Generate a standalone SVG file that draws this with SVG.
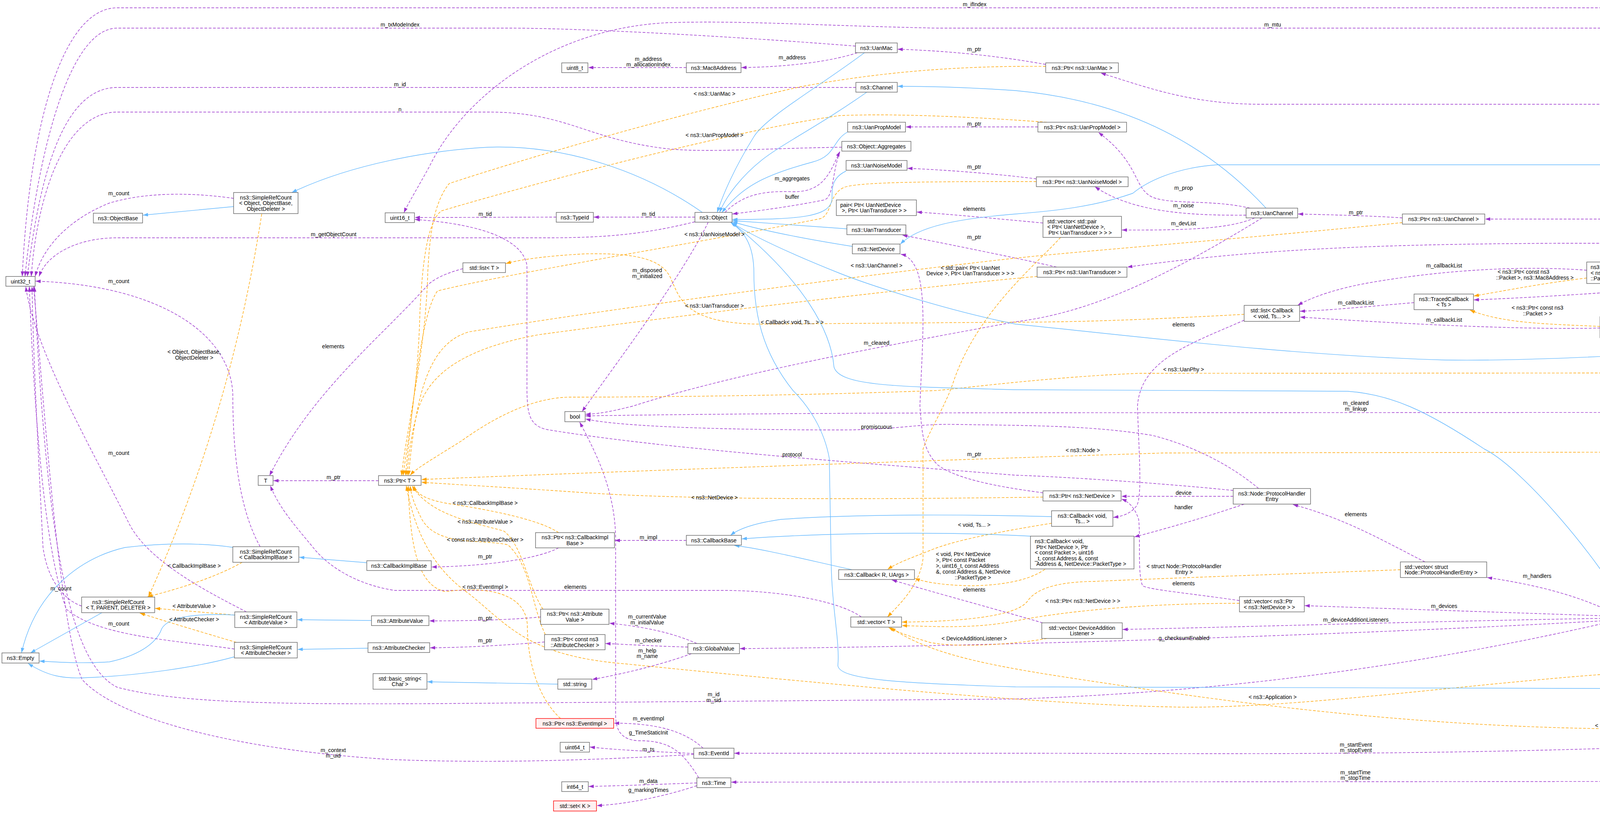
<svg xmlns="http://www.w3.org/2000/svg" width="5592" height="2082" viewBox="0 0 5592 2082">
<defs>
<style>
text{font-family:"Liberation Sans",Arial,sans-serif;font-size:14px;fill:#000}
.nd rect{fill:#fff;stroke:#666;stroke-width:1.4}
.nd text{text-anchor:middle}
.nd text.l{text-anchor:start}
.nd.hl rect{fill:#999}
.nd.tr rect{fill:#fff0f0;stroke:#f00}
.u{stroke:#9a32cd;stroke-dasharray:7,4;marker-end:url(#ap)}
.o{stroke:#ffa500;stroke-dasharray:7,4;marker-end:url(#ao)}
.b{stroke:#63b8ff;marker-end:url(#ab)}
</style>
<marker id="ap" markerUnits="userSpaceOnUse" markerWidth="13" markerHeight="9" refX="13" refY="4.5" orient="auto"><path d="M0,0 L13,4.5 L0,9 z" fill="#9a32cd"/></marker>
<marker id="ao" markerUnits="userSpaceOnUse" markerWidth="13" markerHeight="9" refX="13" refY="4.5" orient="auto"><path d="M0,0 L13,4.5 L0,9 z" fill="#ffa500"/></marker>
<marker id="ab" markerUnits="userSpaceOnUse" markerWidth="13" markerHeight="9" refX="13" refY="4.5" orient="auto"><path d="M0,0 L13,4.5 L0,9 z" fill="#63b8ff"/></marker>
</defs>
<rect width="5592" height="2082" fill="#fff"/>
<g id="connectors" fill="none" stroke-width="1.4">
<path class="u" d="M5190,646 C5175,400 5110,20 4890,20 L300,20 C160,20 75,320 57,708"/>
<path class="u" d="M5182,646 C5150,300 5020,72 4870,72 L2400,72 C2100,66 1900,52 1712,58 C1400,72 1180,260 1100,425 C1070,480 1045,520 1034,545"/>
<path class="u" d="M2190,118 C1900,95 1500,72 1300,72 L300,72 C175,72 95,400 64,708"/>
<path class="u" d="M5178,646 C5120,420 5000,267 4880,267 L3230,267 C3050,267 2940,225 2818,187"/>
<path class="u" d="M2677,165 C2550,142 2420,130 2298,126"/>
<path class="u" d="M2195,135 C2120,160 2000,172 1898,173"/>
<path class="u" d="M1757,173 L1506,173"/>
<path class="u" d="M2191,224 L300,224 C170,224 105,420 70,708"/>
<path class="u" d="M2155,377 C1950,380 1800,392 1700,380 C1500,355 1450,287 1250,287 L300,287 C165,287 95,500 80,708"/>
<path class="u" d="M1779,568 C1650,600 1550,609 1400,609 L300,609 C200,609 120,650 100,708"/>
<path class="u" d="M598,508 C500,494 380,490 280,520 C180,560 110,630 90,708"/>
<path class="u" d="M666,1400 C610,1300 596,1150 596,1010 C590,850 400,730 91,720"/>
<path class="u" d="M631,1567 C540,1520 380,1440 330,1340 C230,1140 90,900 66,734"/>
<path class="u" d="M600,1662 C450,1640 250,1630 170,1560 C110,1400 85,1000 75,734"/>
<path class="u" d="M209,1552 C160,1535 120,1480 110,1400 C95,1100 85,900 82,734"/>
<path class="u" d="M1776,1932 C1500,1948 1250,1955 1000,1945 C600,1920 300,1840 210,1740 C150,1600 110,1000 86,734"/>
<path class="u" d="M4133,1590 C3700,1690 3200,1770 2600,1790 L1100,1802 C700,1804 450,1800 300,1760 C180,1700 120,1400 88,734"/>
<path class="u" d="M1779,556 L1520,556"/>
<path class="u" d="M1424,556 L1062,557"/>
<path class="u" d="M3157,1256 C2950,1235 2700,1220 2600,1217 C2200,1185 1700,1150 1400,1100 C1355,1090 1350,1060 1349,1000 L1349,680 C1340,620 1250,575 1062,562"/>
<path class="u" d="M1813,569 C1750,700 1600,900 1490,1054"/>
<path class="u" d="M1856,544 C1900,500 1950,488 2030,491 C2110,492 2125,440 2150,388"/>
<path class="u" d="M2150,390 C2130,440 2135,505 2110,512 C2020,530 1940,540 1875,548"/>
<path class="u" d="M2657,325 L2319,325"/>
<path class="u" d="M2653,458 C2550,445 2420,435 2323,431"/>
<path class="u" d="M2670,571 C2550,560 2450,550 2347,543"/>
<path class="u" d="M2705,684 C2600,660 2450,630 2310,602"/>
<path class="u" d="M2670,1262 C2580,1250 2450,1230 2400,1190 C2360,1150 2360,1100 2355,1040 C2360,900 2372,770 2350,700 C2340,670 2325,655 2306,651"/>
<path class="u" d="M3590,558 C3500,552 3400,550 3323,548"/>
<path class="u" d="M3200,533 C3100,510 3000,525 2950,505 C2900,480 2920,420 2812,339"/>
<path class="u" d="M3190,551 C3050,552 2900,545 2803,478"/>
<path class="u" d="M3212,558 C3150,585 3050,590 2872,589"/>
<path class="u" d="M3231,558 C3000,700 2800,800 2600,824 C2300,880 1900,950 1620,1040 C1560,1055 1530,1060 1499,1061"/>
<path class="u" d="M3185,820 C3050,880 2920,920 2912,1040 C2915,1150 2925,1270 2910,1295 C2895,1315 2875,1322 2850,1325"/>
<path class="u" d="M3620,775 C3500,785 3400,795 3328,797"/>
<path class="u" d="M4062,692 C3900,680 3700,690 3500,725 C3420,740 3360,760 3322,782"/>
<path class="u" d="M4096,840 C3900,845 3600,830 3328,812"/>
<path class="u" d="M5126,662 C4900,670 4600,683 4293,693"/>
<path class="u" d="M5126,668 C4800,700 4300,735 4100,750 C3950,760 3850,765 3773,768"/>
<path class="u" d="M5160,646 C5100,610 5000,561 4880,561 L3802,561"/>
<path class="u" d="M5126,648 C5050,635 4950,623 4880,623 L4000,623 C3500,625 3200,640 2886,684"/>
<path class="u" d="M5187,671 C5130,760 5000,830 4905,870"/>
<path class="u" d="M4773,882 L4613,882"/>
<path class="u" d="M4509,879 C4420,870 4330,860 4260,851"/>
<path class="u" d="M5195,671 C5160,850 5120,1050 5000,1115 C4900,1135 4780,1130 4700,1175 C4650,1205 4610,1225 4585,1240"/>
<path class="u" d="M5202,671 C5180,850 5140,1050 5100,1120 C5070,1160 5000,1178 4931,1178"/>
<path class="u" d="M5190,671 C5120,850 5020,1056 4860,1056 L2600,1057 C2000,1058 1700,1062 1499,1065"/>
<path class="u" d="M3222,1251 C3150,1190 3050,1140 2950,1115 C2800,1090 2650,1090 2450,1087 C2350,1084 2300,1101 2150,1101 C1900,1101 1600,1095 1499,1073"/>
<path class="u" d="M3157,1271 L2871,1271"/>
<path class="u" d="M3185,1291 C3100,1320 3000,1350 2904,1375"/>
<path class="u" d="M3648,1439 C3550,1390 3450,1330 3310,1292"/>
<path class="u" d="M3173,1538 C3050,1520 2940,1510 2925,1500 C2912,1470 2920,1380 2915,1330 C2905,1300 2890,1285 2871,1278"/>
<path class="u" d="M4135,1572 C4050,1530 3950,1500 3807,1479"/>
<path class="u" d="M4133,1578 C3900,1570 3600,1560 3340,1551"/>
<path class="u" d="M4133,1583 C3700,1590 3200,1605 2874,1612"/>
<path class="u" d="M4133,1588 C3600,1620 2600,1655 1894,1661"/>
<path class="u" d="M2669,1595 C2550,1560 2400,1520 2283,1485"/>
<path class="u" d="M2205,1580 C2150,1540 2000,1512 1850,1512 L1010,1512 C900,1495 830,1440 800,1400 C750,1340 715,1300 692,1244"/>
<path class="u" d="M1185,688 C1140,700 1110,715 1095,730 C980,860 800,1000 690,1218"/>
<path class="u" d="M969,1231 L700,1231"/>
<path class="u" d="M4220,1589 C4350,1605 4420,1617 4550,1617 L5180,1617 C5300,1620 5400,1660 5455,1712"/>
<path class="u" d="M5416,1731 L5303,1731"/>
<path class="u" d="M5097,1745 C5030,1752 4980,1758 4928,1760"/>
<path class="u" d="M4852,1752 C4750,1550 4650,1400 4572,1266"/>
<path class="u" d="M4540,1265 C4450,1380 4300,1500 4197,1568"/>
<path class="u" d="M4815,1777 C4600,1850 4300,1910 4100,1917 C3500,1935 3000,1929 2600,1929 L1880,1929"/>
<path class="u" d="M4860,1777 C4800,1900 4650,2001 4550,2001 L1872,2003"/>
<path class="u" d="M1800,1916 C1760,1880 1700,1852 1572,1852"/>
<path class="u" d="M1776,1930 C1700,1925 1600,1923 1510,1913"/>
<path class="u" d="M1789,1992 C1750,1930 1720,1897 1640,1897 C1590,1897 1576,1870 1576,1830 L1576,1380 C1575,1250 1520,1150 1484,1081"/>
<path class="u" d="M1784,2005 C1700,2008 1600,2012 1507,2014"/>
<path class="u" d="M1784,2012 C1700,2040 1600,2060 1528,2063"/>
<path class="u" d="M1784,1648 C1720,1620 1650,1605 1560,1596"/>
<path class="u" d="M1761,1657 C1680,1655 1600,1650 1550,1648"/>
<path class="u" d="M1770,1674 C1700,1700 1600,1725 1516,1740"/>
<path class="u" d="M1757,1384 L1574,1384"/>
<path class="u" d="M1430,1403 C1380,1430 1250,1450 1105,1452"/>
<path class="u" d="M1384,1580 C1300,1588 1200,1590 1099,1590"/>
<path class="u" d="M1394,1644 C1300,1652 1200,1658 1101,1659"/>
<path class="o" d="M670,548 C600,1000 470,1330 380,1528"/>
<path class="o" d="M620,1440 C550,1480 450,1510 378,1528"/>
<path class="o" d="M601,1575 C520,1568 450,1562 397,1558"/>
<path class="o" d="M605,1645 C520,1620 420,1590 358,1570"/>
<path class="o" d="M3185,805 C3000,815 2800,825 2600,825 L1950,830 C1750,830 1740,760 1720,720 C1700,660 1620,648 1500,650 C1400,655 1330,665 1295,675"/>
<path class="o" d="M2715,608 C2650,680 2500,800 2440,980 C2420,1040 2380,1100 2363,1150 L2363,1430 C2355,1500 2300,1550 2272,1580"/>
<path class="o" d="M3585,1459 C3300,1470 3000,1480 2800,1489 C2700,1490 2650,1510 2630,1540 C2600,1580 2450,1592 2309,1593"/>
<path class="o" d="M3173,1545 C2900,1545 2700,1570 2600,1590 C2500,1610 2400,1605 2309,1602"/>
<path class="o" d="M2680,1635 C2600,1650 2450,1660 2380,1645 C2330,1630 2300,1620 2275,1607"/>
<path class="o" d="M5468,1752 C5420,1820 5300,1866 5200,1866 L4100,1866 C3700,1860 3300,1820 2900,1760 C2600,1715 2400,1690 2280,1607"/>
<path class="o" d="M2692,1340 C2600,1355 2450,1380 2380,1410 C2330,1430 2300,1440 2272,1458"/>
<path class="o" d="M2675,1458 C2630,1490 2550,1500 2480,1500 C2400,1498 2360,1488 2342,1481"/>
<path class="o" d="M4062,712 C3950,725 3850,745 3773,758"/>
<path class="o" d="M4096,836 C3980,830 3850,830 3763,794"/>
<path class="o" d="M2677,170 C2450,168 2250,185 2050,222 C1700,300 1300,420 1150,470 C1110,520 1100,600 1095,700 C1090,900 1040,1100 1028,1218"/>
<path class="o" d="M2680,313 C2500,300 2300,290 2150,296 C1900,330 1400,460 1130,540 C1090,570 1080,700 1075,800 C1070,1000 1040,1150 1032,1218"/>
<path class="o" d="M2653,465 C2400,465 2200,465 2160,480 C2120,500 2130,550 2100,560 C1800,620 1300,700 1120,745 C1080,800 1060,1000 1038,1218"/>
<path class="o" d="M2655,708 C2400,730 1800,800 1380,857 C1200,890 1100,950 1070,1050 C1050,1120 1045,1180 1042,1218"/>
<path class="o" d="M3590,570 C3200,610 2800,640 2600,661 C2200,705 1500,800 1200,850 C1100,880 1065,1000 1046,1218"/>
<path class="o" d="M4829,895 C4750,935 4650,955 4550,955 L2916,956 C2700,965 2500,990 2400,1000 C2000,1015 1600,1017 1455,1017 C1350,1020 1250,1080 1180,1130 C1100,1180 1065,1200 1050,1217"/>
<path class="o" d="M4527,1240 C4450,1190 4300,1158 4150,1158 L2980,1160 C2500,1175 1500,1210 1079,1228"/>
<path class="o" d="M2670,1273 C2300,1278 1800,1282 1500,1262 C1300,1248 1150,1240 1079,1235"/>
<path class="o" d="M1430,1364 C1380,1330 1250,1305 1150,1290 C1090,1280 1065,1265 1060,1244"/>
<path class="o" d="M1390,1560 C1350,1500 1340,1400 1290,1360 C1220,1340 1100,1320 1055,1244"/>
<path class="o" d="M1396,1625 C1360,1550 1360,1450 1300,1395 C1230,1380 1120,1400 1080,1330 C1060,1290 1053,1270 1050,1244"/>
<path class="o" d="M1435,1840 C1380,1790 1350,1700 1350,1600 C1345,1520 1250,1500 1140,1515 C1070,1500 1050,1400 1045,1244"/>
<path class="o" d="M5097,1724 C4900,1716 4500,1712 4300,1716 C3900,1730 3400,1810 3050,1811 C2700,1810 2000,1740 1600,1700 C1350,1680 1300,1600 1200,1520 C1100,1450 1060,1350 1040,1244"/>
<path class="b" d="M598,529 L366,551"/>
<path class="b" d="M1798,544 C1650,440 1450,370 1250,377 C1100,385 900,420 747,493"/>
<path class="b" d="M598,1402 C520,1390 420,1390 320,1402 C200,1430 90,1520 55,1672"/>
<path class="b" d="M261,1569 L78,1672"/>
<path class="b" d="M601,1575 C500,1570 430,1580 414,1610 C400,1650 350,1680 280,1695 C200,1700 140,1695 101,1693"/>
<path class="b" d="M600,1682 C500,1710 350,1730 230,1735 C160,1740 120,1730 72,1699"/>
<path class="b" d="M939,1441 L766,1427"/>
<path class="b" d="M951,1589 L761,1587"/>
<path class="b" d="M942,1660 L762,1663"/>
<path class="b" d="M1428,1752 L1094,1746"/>
<path class="b" d="M2213,135 C2100,220 1960,300 1930,350 C1880,430 1850,500 1836,544"/>
<path class="b" d="M2219,236 C2100,320 2000,370 1950,410 C1900,450 1860,500 1842,544"/>
<path class="b" d="M2170,338 C2130,360 2140,400 2080,415 C1950,450 1900,480 1848,544"/>
<path class="b" d="M2166,438 C2130,455 2130,480 2130,510 C2125,555 2050,562 1875,562"/>
<path class="b" d="M2168,586 C2050,578 1950,570 1875,565"/>
<path class="b" d="M2182,631 C2050,610 1950,590 1875,568"/>
<path class="b" d="M3241,533 C3100,380 2900,260 2600,232 C2500,225 2400,221 2298,221"/>
<path class="b" d="M5200,646 C5150,520 5050,422 4900,422 L3116,422 C3000,430 2930,470 2900,495 C2800,530 2700,540 2600,548 C2450,560 2350,580 2305,625"/>
<path class="b" d="M4509,888 C4200,910 3900,925 3700,922 C3300,910 2900,860 2600,830 C2400,790 2200,720 2150,700 C2000,640 1920,600 1873,570"/>
<path class="b" d="M4167,1568 C4100,1440 3900,1200 3800,1150 C3650,1050 3560,1010 3450,1002 L2600,998 C2300,990 2150,990 2135,940 C2128,850 2060,720 1874,570"/>
<path class="b" d="M4801,1765 L2600,1759 C2300,1750 2150,1740 2145,1705 C2150,1640 2130,1560 2128,1450 L2123,1174 C2110,1100 2070,1040 2030,1000 C1950,900 1930,800 1930,700 C1930,620 1900,590 1870,569"/>
<path class="b" d="M2181,1459 C2050,1430 1950,1405 1880,1397"/>
<path class="b" d="M2692,1323 C2500,1318 2200,1315 2000,1330 C1930,1340 1890,1355 1870,1371"/>
<path class="b" d="M2638,1373 C2400,1360 2100,1365 1899,1380"/>
</g>
<g id="nodes">
<g id="n_uint32" class="nd"><rect x="15" y="708" width="75" height="25"/><text x="52.5" y="725.5">uint32_t</text></g>
<g id="n_srcobj" class="nd"><rect x="598" y="493" width="165" height="54"/><text x="680.5" y="510.5">ns3::SimpleRefCount</text><text x="680.5" y="525">&lt; Object, ObjectBase,</text><text x="680.5" y="539.5">ObjectDeleter &gt;</text></g>
<g id="n_objbase" class="nd"><rect x="239" y="546" width="126" height="25"/><text x="302" y="563.5">ns3::ObjectBase</text></g>
<g id="n_uint16" class="nd"><rect x="986" y="545" width="75" height="25"/><text x="1023.5" y="562.5">uint16_t</text></g>
<g id="n_T" class="nd"><rect x="661" y="1218" width="38" height="25"/><text x="680" y="1235.5">T</text></g>
<g id="n_ptrT" class="nd"><rect x="969" y="1218" width="109" height="25"/><text x="1023.5" y="1235.5">ns3::Ptr&lt; T &gt;</text></g>
<g id="n_srccib" class="nd"><rect x="596" y="1400" width="169" height="40"/><text x="680.5" y="1417.5">ns3::SimpleRefCount</text><text x="680.5" y="1432">&lt; CallbackImplBase &gt;</text></g>
<g id="n_cib" class="nd"><rect x="939" y="1436" width="165" height="25"/><text x="1021.5" y="1453.5">ns3::CallbackImplBase</text></g>
<g id="n_srctpd" class="nd"><rect x="209" y="1529" width="187" height="40"/><text x="302.5" y="1546.5">ns3::SimpleRefCount</text><text x="302.5" y="1561">&lt; T, PARENT, DELETER &gt;</text></g>
<g id="n_srcav" class="nd"><rect x="601" y="1567" width="159" height="40"/><text x="680.5" y="1584.5">ns3::SimpleRefCount</text><text x="680.5" y="1599">&lt; AttributeValue &gt;</text></g>
<g id="n_av" class="nd"><rect x="951" y="1577" width="147" height="25"/><text x="1024.5" y="1594.5">ns3::AttributeValue</text></g>
<g id="n_srcac" class="nd"><rect x="600" y="1645" width="161" height="40"/><text x="680.5" y="1662.5">ns3::SimpleRefCount</text><text x="680.5" y="1677">&lt; AttributeChecker &gt;</text></g>
<g id="n_ac" class="nd"><rect x="942" y="1646" width="158" height="25"/><text x="1021" y="1663.5">ns3::AttributeChecker</text></g>
<g id="n_empty" class="nd"><rect x="5" y="1672" width="95" height="26"/><text x="52.5" y="1690">ns3::Empty</text></g>
<g id="n_bstr" class="nd"><rect x="955" y="1725" width="138" height="40"/><text x="1024" y="1742.5">std::basic_string&lt;</text><text x="1024" y="1757">Char &gt;</text></g>
<g id="n_uanmac" class="nd"><rect x="2190" y="110" width="107" height="25"/><text x="2243.5" y="127.5">ns3::UanMac</text></g>
<g id="n_uint8" class="nd"><rect x="1438" y="161" width="67" height="25"/><text x="1471.5" y="178.5">uint8_t</text></g>
<g id="n_mac8" class="nd"><rect x="1757" y="161" width="140" height="25"/><text x="1827" y="178.5">ns3::Mac8Address</text></g>
<g id="n_channel" class="nd"><rect x="2191" y="211" width="106" height="25"/><text x="2244" y="228.5">ns3::Channel</text></g>
<g id="n_uanprop" class="nd"><rect x="2170" y="313" width="148" height="25"/><text x="2244" y="330.5">ns3::UanPropModel</text></g>
<g id="n_aggr" class="nd"><rect x="2155" y="362" width="177" height="25"/><text x="2243.5" y="379.5">ns3::Object::Aggregates</text></g>
<g id="n_uannoise" class="nd"><rect x="2166" y="411" width="156" height="25"/><text x="2244" y="428.5">ns3::UanNoiseModel</text></g>
<g id="n_pair" class="nd"><rect x="2141" y="512" width="205" height="40"/><text class="l" x="2151" y="529.5">pair&lt; Ptr&lt; UanNetDevice</text><text class="l" x="2155" y="544">&gt;, Ptr&lt; UanTransducer &gt; &gt;</text></g>
<g id="n_typeid" class="nd"><rect x="1424" y="544" width="95" height="25"/><text x="1471.5" y="561.5">ns3::TypeId</text></g>
<g id="n_object" class="nd"><rect x="1779" y="544" width="95" height="25"/><text x="1826.5" y="561.5">ns3::Object</text></g>
<g id="n_uantrans" class="nd"><rect x="2168" y="576" width="151" height="25"/><text x="2243.5" y="593.5">ns3::UanTransducer</text></g>
<g id="n_netdev" class="nd"><rect x="2182" y="625" width="122" height="25"/><text x="2243" y="642.5">ns3::NetDevice</text></g>
<g id="n_listT" class="nd"><rect x="1185" y="673" width="109" height="25"/><text x="1239.5" y="690.5">std::list&lt; T &gt;</text></g>
<g id="n_bool" class="nd"><rect x="1446" y="1054" width="52" height="26"/><text x="1472" y="1072">bool</text></g>
<g id="n_ptrcib" class="nd"><rect x="1371" y="1364" width="202" height="39"/><text x="1472" y="1381">ns3::Ptr&lt; ns3::CallbackImpl</text><text x="1472" y="1395.5">Base &gt;</text></g>
<g id="n_cbbase" class="nd"><rect x="1757" y="1371" width="141" height="25"/><text x="1827.5" y="1388.5">ns3::CallbackBase</text></g>
<g id="n_cbRU" class="nd"><rect x="2147" y="1459" width="194" height="25"/><text x="2244" y="1476.5">ns3::Callback&lt; R, UArgs &gt;</text></g>
<g id="n_ptrav" class="nd"><rect x="1384" y="1560" width="175" height="39"/><text x="1471.5" y="1577">ns3::Ptr&lt; ns3::Attribute</text><text x="1471.5" y="1591.5">Value &gt;</text></g>
<g id="n_vecT" class="nd"><rect x="2178" y="1580" width="130" height="26"/><text x="2243" y="1598">std::vector&lt; T &gt;</text></g>
<g id="n_ptrac" class="nd"><rect x="1394" y="1625" width="155" height="39"/><text x="1471.5" y="1642">ns3::Ptr&lt; const ns3</text><text x="1471.5" y="1656.5">::AttributeChecker &gt;</text></g>
<g id="n_global" class="nd"><rect x="1761" y="1648" width="132" height="26"/><text x="1827" y="1666">ns3::GlobalValue</text></g>
<g id="n_string" class="nd"><rect x="1428" y="1739" width="87" height="26"/><text x="1471.5" y="1757">std::string</text></g>
<g id="n_ptrevent" class="nd tr"><rect x="1372" y="1840" width="199" height="25"/><text x="1471.5" y="1857.5">ns3::Ptr&lt; ns3::EventImpl &gt;</text></g>
<g id="n_uint64" class="nd"><rect x="1434" y="1901" width="75" height="25"/><text x="1471.5" y="1918.5">uint64_t</text></g>
<g id="n_eventid" class="nd"><rect x="1776" y="1916" width="103" height="26"/><text x="1827.5" y="1934">ns3::EventId</text></g>
<g id="n_int64" class="nd"><rect x="1438" y="2002" width="68" height="25"/><text x="1472" y="2019.5">int64_t</text></g>
<g id="n_time" class="nd"><rect x="1784" y="1992" width="87" height="25"/><text x="1827.5" y="2009.5">ns3::Time</text></g>
<g id="n_setK" class="nd tr"><rect x="1417" y="2051" width="110" height="26"/><text x="1472" y="2069">std::set&lt; K &gt;</text></g>
<g id="n_ptruanmac" class="nd"><rect x="2677" y="161" width="186" height="25"/><text x="2770" y="178.5">ns3::Ptr&lt; ns3::UanMac &gt;</text></g>
<g id="n_ptruanprop" class="nd"><rect x="2657" y="313" width="227" height="25"/><text x="2770.5" y="330.5">ns3::Ptr&lt; ns3::UanPropModel &gt;</text></g>
<g id="n_ptruannoise" class="nd"><rect x="2653" y="453" width="235" height="25"/><text x="2770.5" y="470.5">ns3::Ptr&lt; ns3::UanNoiseModel &gt;</text></g>
<g id="n_uanchan" class="nd"><rect x="3190" y="533" width="132" height="25"/><text x="3256" y="550.5">ns3::UanChannel</text></g>
<g id="n_vecpair" class="nd"><rect x="2670" y="554" width="201" height="54"/><text class="l" x="2681" y="571.5">std::vector&lt; std::pair</text><text class="l" x="2681" y="586">&lt; Ptr&lt; UanNetDevice &gt;,</text><text class="l" x="2684" y="600.5">Ptr&lt; UanTransducer &gt; &gt; &gt;</text></g>
<g id="n_ptruanchan" class="nd"><rect x="3590" y="548" width="211" height="26"/><text x="3695.5" y="566">ns3::Ptr&lt; ns3::UanChannel &gt;</text></g>
<g id="n_ptruantrans" class="nd"><rect x="2655" y="684" width="230" height="26"/><text x="2770" y="702">ns3::Ptr&lt; ns3::UanTransducer &gt;</text></g>
<g id="n_listcb" class="nd"><rect x="3185" y="782" width="142" height="41"/><text x="3256" y="800">std::list&lt; Callback</text><text x="3256" y="814.5">&lt; void, Ts... &gt; &gt;</text></g>
<g id="n_tcTs" class="nd"><rect x="3620" y="753" width="152" height="40"/><text x="3696" y="770.5">ns3::TracedCallback</text><text x="3696" y="785">&lt; Ts &gt;</text></g>
<g id="n_tcPM" class="nd"><rect x="4062" y="671" width="230" height="55"/><text class="l" x="4072" y="689">ns3::TracedCallback</text><text class="l" x="4072" y="703.5">&lt; ns3::Ptr&lt; const ns3</text><text class="l" x="4072" y="718">::Packet &gt;, ns3::Mac8Address &gt;</text></g>
<g id="n_tcP" class="nd"><rect x="4096" y="811" width="163" height="54"/><text x="4177.5" y="828.5">ns3::TracedCallback</text><text x="4177.5" y="843">&lt; ns3::Ptr&lt; const ns3</text><text x="4177.5" y="857.5">::Packet &gt; &gt;</text></g>
<g id="n_uannetdev" class="nd hl"><rect x="5126" y="646" width="147" height="25"/><text x="5199.5" y="663.5">ns3::UanNetDevice</text></g>
<g id="n_uanphy" class="nd"><rect x="4509" y="870" width="103" height="25"/><text x="4560.5" y="887.5">ns3::UanPhy</text></g>
<g id="n_ptruanphy" class="nd"><rect x="4773" y="870" width="183" height="25"/><text x="4864.5" y="887.5">ns3::Ptr&lt; ns3::UanPhy &gt;</text></g>
<g id="n_recvcb" class="nd"><rect x="4799" y="1157" width="131" height="25"/><text x="4864.5" y="1174.5">ReceiveCallback</text></g>
<g id="n_ptrnode" class="nd"><rect x="4477" y="1240" width="167" height="25"/><text x="4560.5" y="1257.5">ns3::Ptr&lt; ns3::Node &gt;</text></g>
<g id="n_node" class="nd"><rect x="4133" y="1568" width="87" height="25"/><text x="4176.5" y="1585.5">ns3::Node</text></g>
<g id="n_vecapp" class="nd"><rect x="5416" y="1712" width="170" height="39"/><text class="l" x="5427" y="1729">std::vector&lt; ns3::Ptr</text><text class="l" x="5427" y="1743.5">&lt; ns3::Application &gt; &gt;</text></g>
<g id="n_ptrapp" class="nd"><rect x="5097" y="1719" width="205" height="25"/><text x="5199.5" y="1736.5">ns3::Ptr&lt; ns3::Application &gt;</text></g>
<g id="n_app" class="nd"><rect x="4801" y="1752" width="126" height="25"/><text x="4864" y="1769.5">ns3::Application</text></g>
<g id="n_ptrnd" class="nd"><rect x="2670" y="1257" width="200" height="26"/><text x="2770" y="1275">ns3::Ptr&lt; ns3::NetDevice &gt;</text></g>
<g id="n_cbvoidTs" class="nd"><rect x="2692" y="1308" width="157" height="40"/><text x="2770.5" y="1325.5">ns3::Callback&lt; void,</text><text x="2770.5" y="1340">Ts... &gt;</text></g>
<g id="n_cbvoid" class="nd"><rect x="2638" y="1373" width="265" height="84"/><text class="l" x="2649" y="1391">ns3::Callback&lt; void,</text><text class="l" x="2653" y="1405.5">Ptr&lt; NetDevice &gt;, Ptr</text><text class="l" x="2649" y="1420">&lt; const Packet &gt;, uint16</text><text class="l" x="2649" y="1434.5">_t, const Address &amp;, const</text><text class="l" x="2653" y="1449">Address &amp;, NetDevice::PacketType &gt;</text></g>
<g id="n_phe" class="nd"><rect x="3157" y="1251" width="198" height="40"/><text x="3256" y="1268.5">ns3::Node::ProtocolHandler</text><text x="3256" y="1283">Entry</text></g>
<g id="n_vecphe" class="nd"><rect x="3585" y="1439" width="221" height="40"/><text class="l" x="3596" y="1456.5">std::vector&lt; struct</text><text class="l" x="3596" y="1471">Node::ProtocolHandlerEntry &gt;</text></g>
<g id="n_vecnd" class="nd"><rect x="3173" y="1528" width="166" height="39"/><text class="l" x="3184" y="1545">std::vector&lt; ns3::Ptr</text><text class="l" x="3184" y="1559.5">&lt; ns3::NetDevice &gt; &gt;</text></g>
<g id="n_vecdal" class="nd"><rect x="2667" y="1595" width="206" height="40"/><text x="2770" y="1612.5">std::vector&lt; DeviceAddition</text><text x="2770" y="1627">Listener &gt;</text></g>
</g>
<g id="edge-labels" text-anchor="middle">
<text x="2495" y="16">m_ifIndex</text>
<text x="1024" y="68">m_txModeIndex</text>
<text x="3258" y="68">m_mtu</text>
<text x="2494" y="131">m_ptr</text>
<text x="2028" y="152">m_address</text>
<text x="1660" y="156">m_address<tspan x="1660" y="170">m_allocationIndex</tspan></text>
<text x="1024" y="221">m_id</text>
<text x="1024" y="285">n</text>
<text x="1829" y="245">&lt; ns3::UanMac &gt;</text>
<text x="2494" y="322">m_ptr</text>
<text x="1829" y="351">&lt; ns3::UanPropModel &gt;</text>
<text x="4179" y="264">m_mac</text>
<text x="2494" y="432">m_ptr</text>
<text x="2028" y="462">m_aggregates</text>
<text x="3030" y="486">m_prop</text>
<text x="2028" y="509">buffer</text>
<text x="3030" y="531">m_noise</text>
<text x="2494" y="540">elements</text>
<text x="1242" y="553">m_tid</text>
<text x="1660" y="553">m_tid</text>
<text x="3471" y="549">m_ptr</text>
<text x="4562" y="557">m_channel</text>
<text x="3030" y="577">m_devList</text>
<text x="854" y="605">m_getObjectCount</text>
<text x="1829" y="605">&lt; ns3::UanNoiseModel &gt;</text>
<text x="2494" y="612">m_ptr</text>
<text x="4179" y="620">m_trans</text>
<text x="4710" y="660">m_rxLogger<tspan x="4710" y="674">m_txLogger</tspan></text>
<text x="2244" y="685">&lt; ns3::UanChannel &gt;</text>
<text x="2484" y="691">&lt; std::pair&lt; Ptr&lt; UanNet<tspan x="2484" y="705">Device &gt;, Ptr&lt; UanTransducer &gt; &gt; &gt;</tspan></text>
<text x="3697" y="685">m_callbackList</text>
<text x="3834" y="701" text-anchor="start">&lt; ns3::Ptr&lt; const ns3<tspan x="3830" y="716">::Packet &gt;, ns3::Mac8Address &gt;</tspan></text>
<text x="1657" y="697">m_disposed<tspan x="1657" y="712">m_initialized</tspan></text>
<text x="4562" y="709">m_linkChanges</text>
<text x="3471" y="780">m_callbackList</text>
<text x="1829" y="788">&lt; ns3::UanTransducer &gt;</text>
<text x="4386" y="781">m_phyRxBeginTrace<tspan x="4386" y="796">m_phyRxDropTrace</tspan><tspan x="4386" y="811">m_phyRxEndTrace</tspan><tspan x="4386" y="826">m_phyTxBeginTrace</tspan><tspan x="4386" y="841">m_phyTxDropTrace</tspan><tspan x="4386" y="856">m_phyTxEndTrace</tspan></text>
<text x="5028" y="782">m_phy</text>
<text x="3936" y="793">&lt; ns3::Ptr&lt; const ns3<tspan x="3936" y="808">::Packet &gt; &gt;</tspan></text>
<text x="3697" y="824">m_callbackList</text>
<text x="2028" y="830">&lt; Callback&lt; void, Ts... &gt; &gt;</text>
<text x="3030" y="836">elements</text>
<text x="4710" y="880">m_ptr</text>
<text x="2244" y="883">m_cleared</text>
<text x="497" y="906">&lt; Object, ObjectBase,<tspan x="497" y="921">ObjectDeleter &gt;</tspan></text>
<text x="853" y="892">elements</text>
<text x="3030" y="951">&lt; ns3::UanPhy &gt;</text>
<text x="3471" y="1037">m_cleared<tspan x="3471" y="1052">m_linkup</tspan></text>
<text x="2244" y="1098">promiscuous</text>
<text x="4865" y="1124">m_node</text>
<text x="5028" y="1138">m_forwardUp</text>
<text x="2772" y="1158">&lt; ns3::Node &gt;</text>
<text x="304" y="500">m_count</text>
<text x="304" y="725">m_count</text>
<text x="304" y="1165">m_count</text>
<text x="2028" y="1169">protocol</text>
<text x="2494" y="1168">m_ptr</text>
<text x="854" y="1227">m_ptr</text>
<text x="3030" y="1267">device</text>
<text x="1829" y="1279">&lt; ns3::NetDevice &gt;</text>
<text x="1242" y="1293">&lt; ns3::CallbackImplBase &gt;</text>
<text x="3030" y="1304">handler</text>
<text x="3471" y="1322">elements</text>
<text x="1242" y="1341">&lt; ns3::AttributeValue &gt;</text>
<text x="4386" y="1346">m_ptr</text>
<text x="2494" y="1349">&lt; void, Ts... &gt;</text>
<text x="1660" y="1381">m_impl</text>
<text x="1242" y="1387">&lt; const ns3::AttributeChecker &gt;</text>
<text x="2396" y="1424" text-anchor="start">&lt; void, Ptr&lt; NetDevice<tspan x="2396" y="1439">&gt;, Ptr&lt; const Packet</tspan><tspan x="2396" y="1454">&gt;, uint16_t, const Address</tspan><tspan x="2396" y="1469">&amp;, const Address &amp;, NetDevice</tspan><tspan x="2444" y="1484">::PacketType &gt;</tspan></text>
<text x="1242" y="1430">m_ptr</text>
<text x="497" y="1454">&lt; CallbackImplBase &gt;</text>
<text x="3031" y="1455">&lt; struct Node::ProtocolHandler<tspan x="3031" y="1470">Entry &gt;</tspan></text>
<text x="4710" y="1464">m_node</text>
<text x="3935" y="1480">m_handlers</text>
<text x="3030" y="1499">elements</text>
<text x="1242" y="1508">&lt; ns3::EventImpl &gt;</text>
<text x="1473" y="1508">elements</text>
<text x="156" y="1512">m_count</text>
<text x="2494" y="1515">elements</text>
<text x="2772" y="1544">&lt; ns3::Ptr&lt; ns3::NetDevice &gt; &gt;</text>
<text x="497" y="1557">&lt; AttributeValue &gt;</text>
<text x="3697" y="1557">m_devices</text>
<text x="1657" y="1584">m_currentValue<tspan x="1657" y="1599">m_initialValue</tspan></text>
<text x="1242" y="1588">m_ptr</text>
<text x="497" y="1591">&lt; AttributeChecker &gt;</text>
<text x="3471" y="1592">m_deviceAdditionListeners</text>
<text x="304" y="1602">m_count</text>
<text x="4865" y="1614">m_applications</text>
<text x="3031" y="1639">g_checksumEnabled</text>
<text x="2494" y="1640">&lt; DeviceAdditionListener &gt;</text>
<text x="1660" y="1645">m_checker</text>
<text x="1242" y="1645">m_ptr</text>
<text x="1657" y="1671">m_help<tspan x="1657" y="1685">m_name</tspan></text>
<text x="5360" y="1728">elements</text>
<text x="5028" y="1744">m_ptr</text>
<text x="1827" y="1783">m_id<tspan x="1827" y="1798">m_sid</tspan></text>
<text x="3258" y="1790">&lt; ns3::Application &gt;</text>
<text x="1660" y="1845">m_eventImpl</text>
<text x="4181" y="1863">&lt; ns3::Ptr&lt; ns3::Application &gt; &gt;</text>
<text x="1660" y="1881">g_TimeStaticInit</text>
<text x="3471" y="1912">m_startEvent<tspan x="3471" y="1926">m_stopEvent</tspan></text>
<text x="853" y="1926">m_context<tspan x="853" y="1940">m_uid</tspan></text>
<text x="1660" y="1924">m_ts</text>
<text x="3470" y="1983">m_startTime<tspan x="3470" y="1997">m_stopTime</tspan></text>
<text x="1660" y="2005">m_data</text>
<text x="1660" y="2028">g_markingTimes</text>
</g>
</svg>
